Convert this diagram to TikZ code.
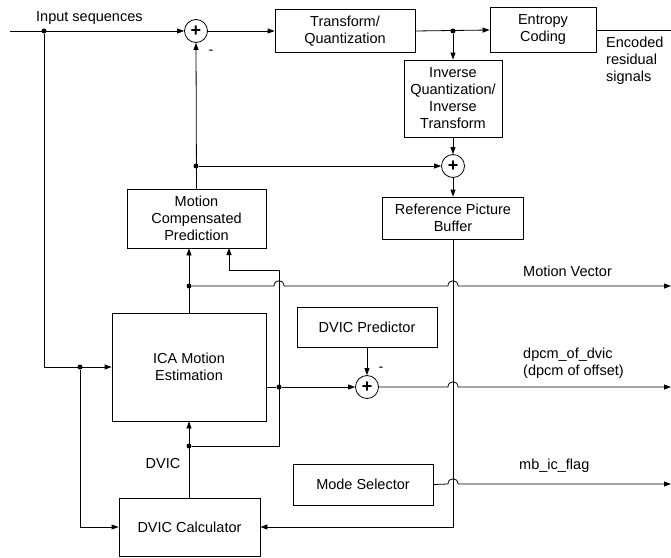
\documentclass[tikz,border=0pt]{standalone}
\usepackage{fontspec}
\setmainfont{Liberation Sans}
\usetikzlibrary{arrows.meta,calc}
\begin{document}
\begin{tikzpicture}[x=1pt,y=-1pt,
  every node/.style={font=\fontsize{14.5}{17}\selectfont},
  blk/.style={draw,line width=0.8pt,inner sep=0pt,align=center},
  sumc/.style={draw,circle,line width=0.8pt,minimum size=23pt,inner sep=0pt,font=\fontsize{18}{18}\selectfont\bfseries},
  dot/.style={circle,fill,inner sep=0pt,minimum size=5pt},
  lbl/.style={inner sep=0pt,align=left,anchor=west},
  ln/.style={line width=0.8pt},
  arr/.style={ln,-{Triangle[length=7pt,width=5pt]}}
]
\useasboundingbox (0,0) rectangle (671,557);
% blocks
\node[sumc] (s1) at (196,31) {+};
\node[blk,minimum width=140pt,minimum height=43pt] (tq) at (345,31) {Transform/\\Quantization};
\node[blk,minimum width=106pt,minimum height=45pt] (ec) at (543,30) {Entropy\\Coding};
\node[blk,minimum width=98pt,minimum height=77pt] (iq) at (453,98.5) {Inverse\\Quantization/\\Inverse\\Transform};
\node[sumc] (s2) at (453,166) {+};
\node[blk,minimum width=141pt,minimum height=42pt] (rpb) at (453,218) {Reference Picture\\Buffer};
\node[blk,minimum width=139pt,minimum height=59pt] (mcp) at (196.5,218.5) {Motion\\Compensated\\Prediction};
\node[blk,minimum width=154pt,minimum height=108pt] (ica) at (189,367) {ICA Motion\\Estimation};
\node[blk,minimum width=140pt,minimum height=40pt] (dp) at (367,327) {DVIC Predictor};
\node[sumc] (s3) at (367,387) {+};
\node[blk,minimum width=140pt,minimum height=41pt] (ms) at (363,484.5) {Mode Selector};
\node[blk,minimum width=141pt,minimum height=58pt] (dc) at (189.5,527) {DVIC Calculator};
% labels
\node[lbl] (lin) at (36,18) {Input sequences};
\node[lbl] (lenc) at (606,61) {Encoded\\residual\\signals};
\node[lbl] (lmv) at (523,271) {Motion Vector};
\node[lbl] (ldp) at (523,363) {dpcm\_of\_dvic\\(dpcm of offset)};
\node[lbl] (lmb) at (519,466) {mb\_ic\_flag};
\node[inner sep=0pt] (ldv) at (163,463) {DVIC};
\node[inner sep=0pt] (m1) at (211,52) {-};
\node[inner sep=0pt] (m2) at (381,369) {-};
% coordinates and dots
\coordinate (start) at (10,31);
\node[dot] (d1) at (44,31) {};
\node[dot] (d2) at (453,31) {};
\node[dot] (d3) at (196,166) {};
\node[dot] (d4) at (189,286) {};
\node[dot] (d5) at (189,446) {};
\node[dot] (d6) at (279,387) {};
\node[dot] (d7) at (80,367) {};
\coordinate (encend) at (671,30);
\coordinate (mvend) at (671,286);
\coordinate (dpend) at (671,387);
\coordinate (mbend) at (671,484);
% connectors
\draw[arr] (start) -- (s1.west);
\draw[arr] (s1.east) -- (tq.west);
\draw[arr] (tq.east) -- (ec.west);
\draw[arr] (d2) -- (iq.north);
\draw[ln] (ec.east) -- (encend);
\draw[arr] (iq.south) -- (s2.north);
\draw[arr] (s2.south) -- (rpb.north);
\draw[arr] (mcp.north) -- (s1.south);
\draw[arr] (d3) -- (s2.west);
\draw[arr] (ica.north -| d4) -- (d4 |- mcp.south);
% motion vector with hops
\draw[arr] (d4) -- (274,286) .. controls (274,279) and (284,279) .. (284,286) -- (448,286) .. controls (448,279) and (458,279) .. (458,286) -- (mvend);
% feedback to MCP
\draw[arr] (d5) -- (279,446) -- (279,270) -- (229,270) -- (229,248);
% ICA out to sum3
\draw[ln] (ica.east |- d6) -- (d6);
\draw[arr] (d6) -- (s3.west);
\draw[arr] (dp.south) -- (s3.north);
\draw[arr] (s3.east) -- (448,387) .. controls (448,380) and (458,380) .. (458,387) -- (dpend);
\draw[arr] (ms.east) -- (448,484) .. controls (448,477) and (458,477) .. (458,484) -- (mbend);
% reference buffer down to DVIC calculator
\draw[arr] (rpb.south) -- (453,527) -- (dc.east);
% left input paths
\draw[arr] (d1) -- (44,367) -- (ica.west);
\draw[arr] (d7) -- (80,527) -- (dc.west);
\draw[arr] (dc.north -| d5) -- (d5 |- ica.south);
\end{tikzpicture}
\end{document}
